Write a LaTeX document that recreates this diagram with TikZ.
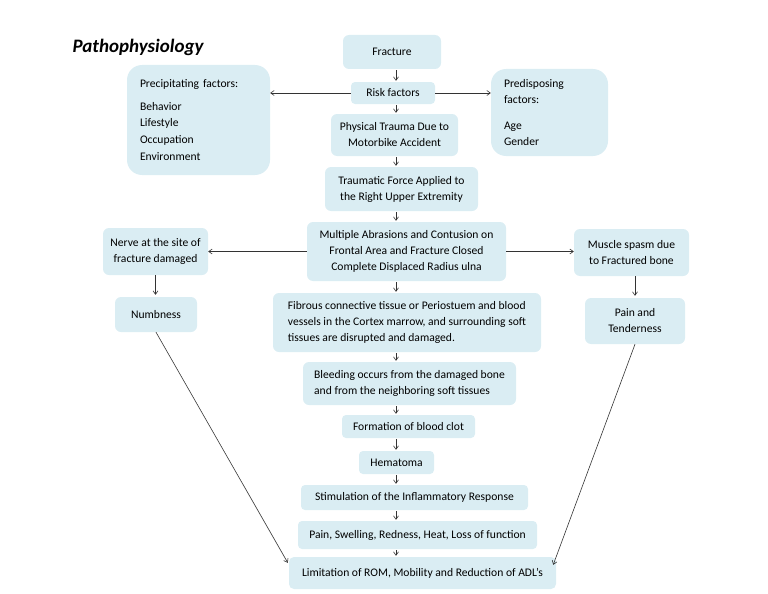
\documentclass[tikz,border=0pt]{standalone}
\usepackage{fontspec}
\setmainfont{Carlito}
\usetikzlibrary{arrows.meta,calc}
\definecolor{boxfill}{HTML}{DAEDF3}
\definecolor{linecol}{HTML}{333333}
\begin{document}
\begin{tikzpicture}[x=1pt,y=-1pt,
  box/.style={fill=boxfill,draw=none,rounded corners=6pt,inner sep=0pt,align=center,
    font=\fontsize{11.6}{16}\selectfont,text=black},
  bigbox/.style={box,rounded corners=15pt},
  arr/.style={draw=linecol,line width=0.6pt,-{Straight Barb[length=3.5pt,width=5pt]}}]
\useasboundingbox (0,0) rectangle (768,594);
\node[anchor=west,font=\fontsize{19}{22}\selectfont\bfseries\itshape] (title) at (69,47) {Pathophysiology};
\coordinate (spine) at (396,0);
\node[box,minimum width=98pt,minimum height=34pt] (fracture) at (392,52) {Fracture};
\node[box,minimum width=84pt,minimum height=22pt,rounded corners=4pt] (risk) at (393,93) {Risk factors};
\node[bigbox,minimum width=143pt,minimum height=110pt,text width=117pt,align=left] (precip) at (198.5,120)
  {\mbox{Precipitating factors:}\\[7pt]Behavior\\[0.5pt]Lifestyle\\[1pt]Occupation\\[1pt]Environment};
\node[bigbox,minimum width=117pt,minimum height=87pt,text width=91pt,align=left] (predis) at (549.5,112.5)
  {Predisposing\\factors:\\[10pt]Age\\Gender};
\node[box,minimum width=127pt,minimum height=42pt] (physical) at (394.5,135) {Physical Trauma Due to\\Motorbike Accident};
\node[box,minimum width=153pt,minimum height=44pt] (traumatic) at (401.5,189) {Traumatic Force Applied to\\the Right Upper Extremity};
\node[box,minimum width=199pt,minimum height=59pt] (multiple) at (406.5,251.5) {Multiple Abrasions and Contusion on\\Frontal Area and Fracture Closed\\Complete Displaced Radius ulna};
\node[box,minimum width=105pt,minimum height=47pt] (nerve) at (155.5,251.5) {Nerve at the site of\\fracture damaged};
\node[box,minimum width=115pt,minimum height=47pt] (muscle) at (631.5,252.5) {Muscle spasm due\\to Fractured bone};
\node[box,minimum width=82pt,minimum height=35pt] (numb) at (156,314.5) {Numbness};
\node[box,minimum width=100pt,minimum height=46pt] (pain) at (635,321) {Pain and\\Tenderness};
\node[box,minimum width=268pt,minimum height=59pt,align=left] (fibrous) at (407,322.5) {Fibrous connective tissue or Periostuem and blood\\vessels in the Cortex marrow, and surrounding soft\\tissues are disrupted and damaged.};
\node[box,minimum width=213pt,minimum height=43pt,align=left] (bleeding) at (409.5,383.5) {Bleeding occurs from the damaged bone\\and from the neighboring soft tissues};
\node[box,minimum width=133pt,minimum height=23pt,rounded corners=4pt] (formation) at (408.5,426.5) {Formation of blood clot};
\node[box,minimum width=75pt,minimum height=23pt,rounded corners=4pt] (hematoma) at (396.5,462.5) {Hematoma};
\node[box,minimum width=227pt,minimum height=25pt,rounded corners=4pt] (stim) at (414.5,497.5) {Stimulation of the Inflammatory Response};
\node[box,minimum width=239pt,minimum height=28pt,rounded corners=4pt] (painsw) at (417.5,535) {Pain, Swelling, Redness, Heat, Loss of function};
\node[box,minimum width=267pt,minimum height=32pt,rounded corners=5pt] (lim) at (422.5,573) {Limitation of ROM, Mobility and Reduction of ADL’s};
% vertical spine arrows
\foreach \a/\b in {fracture/risk,risk/physical,physical/traumatic,traumatic/multiple,multiple/fibrous,fibrous/bleeding,bleeding/formation,formation/hematoma,hematoma/stim,stim/painsw,painsw/lim}
  \draw[arr,shorten <=1pt,shorten >=1pt] (\a.south -| spine) -- (\b.north -| spine);
% side arrows
\draw[arr] (risk.west) -- (precip.east |- risk.west);
\draw[arr] (risk.east) -- (predis.west |- risk.east);
\draw[arr] (multiple.west) -- (nerve.east |- multiple.west);
\draw[arr] (multiple.east) -- (muscle.west |- multiple.east);
\draw[arr,shorten >=2pt] (nerve.south) -- (numb.north -| nerve.south);
\draw[arr,shorten >=2pt] (muscle.south -| pain.north) -- (pain.north);
\coordinate (limL) at ($(lim.north west)+(-1,6)$);
\coordinate (limR) at ($(lim.north east)+(-3,8)$);
\draw[arr] (numb.south) -- (limL);
\draw[arr] (pain.south) -- (limR);
\end{tikzpicture}
\end{document}
